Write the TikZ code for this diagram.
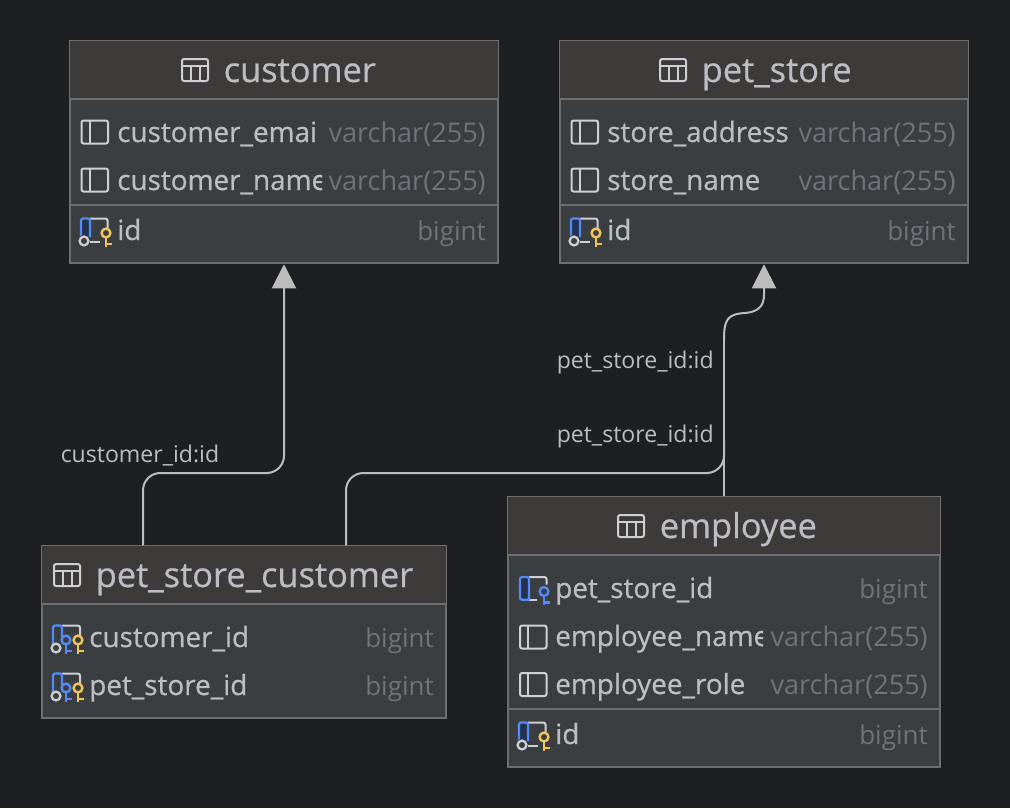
\documentclass[tikz,border=0pt]{standalone}
\usepackage{fontspec}
\setmainfont{Open Sans}
\newfontfamily\medfont[FakeBold=0.6]{Open Sans}
\usetikzlibrary{arrows.meta,calc}
\definecolor{bg}{HTML}{1E1F22}
\definecolor{headfill}{HTML}{3C3B3A}
\definecolor{bodyfill}{HTML}{3B3E41}
\definecolor{edge}{HTML}{6E6E6E}
\definecolor{txt}{HTML}{BCBEC4}
\definecolor{typ}{HTML}{6F737A}
\definecolor{conncol}{HTML}{BDBDBD}
\definecolor{keyblue}{HTML}{548AF7}
\definecolor{keydark}{HTML}{25324D}
\definecolor{keygold}{HTML}{F2C55C}
\definecolor{icongray}{HTML}{CED0D6}
\tikzset{
  x=0.75pt,y=-0.75pt,
  tablebox/.style={draw=edge,line width=1.5pt,fill=bodyfill,inner sep=0pt,anchor=north west},
  titletext/.style={text=txt,font=\medfont\fontsize{25.8}{28}\selectfont,anchor=base west,inner sep=0pt},
  fieldtext/.style={text=txt,font=\medfont\fontsize{20.9}{24}\selectfont,anchor=base west,inner sep=0pt},
  typetext/.style={text=typ,font=\fontsize{20.3}{24}\selectfont,anchor=base east,inner sep=0pt},
  shorttype/.style={text=typ,font=\fontsize{19.5}{24}\selectfont,anchor=base east,inner sep=0pt},
  linklabel/.style={text=txt,font=\fontsize{17.3}{22}\selectfont,anchor=base west,inner sep=0pt},
  conn/.style={draw=conncol,line width=1.5pt},
  iconline/.style={draw=icongray,line width=1.5pt},
  rule/.style={draw=edge,line width=1.5pt},
}
% header band and rules of a table: name, x, y, width, height, header height
\newcommand{\tablebody}[6]{%
  \node[tablebox,minimum width=#4*0.75pt,minimum height=#5*0.75pt] (#1) at (#2-0.75,#3-0.75) {};
  \fill[headfill] ($(#1.north west)+(1,1)$) rectangle ($(#1.north east)+(-1,#6)$);
  \draw[rule] ($(#1.north west)+(0,#6)$) -- ($(#1.north east)+(0,#6)$);
}
\newcommand{\icontable}[2]{%
  \begin{scope}[shift={(#1,#2)}]
    \draw[iconline,rounded corners=1.6pt] (0,-11) rectangle (26,11);
    \draw[iconline] (0,-4) -- (26,-4) (9,-4) -- (9,11) (18,-4) -- (18,11);
  \end{scope}}
\newcommand{\iconfield}[2]{%
  \begin{scope}[shift={(#1,#2)}]
    \draw[iconline,rounded corners=1.6pt] (0,-11.5) rectangle (26.5,11.5);
    \draw[iconline] (8,-11.5) -- (8,11.5);
  \end{scope}}
\newcommand{\keyshape}[3]{% x y colour
  \draw[draw=#3,line width=1.8pt] (#1,#2) circle (4.4);
  \draw[draw=#3,line width=1.9pt] (#1,#2+4.4) -- (#1,#2+13.5) (#1,#2+11) -- (#1+6,#2+11);
}
\newcommand{\iconframe}[2]{%
  \begin{scope}[shift={(#1,#2)}]
    \fill[keydark,rounded corners=1.6pt] (0,-12) rectangle (9,10);
    \draw[iconline,rounded corners=1.6pt] (26.5,-3) |- (9,-12.5);
    \draw[iconline] (9,10.5) -- (19,10.5);
    \draw[draw=keyblue,line width=1.7pt,rounded corners=1.6pt] (0,6) |- (9,-12.5) -- (9,6);
    \fill[bodyfill] (2.5,10) circle (6);
    \draw[draw=icongray,line width=1.7pt] (3,10) circle (4.4);
  \end{scope}}
% primary key icon
\newcommand{\iconpk}[2]{\iconframe{#1}{#2}%
  \begin{scope}[shift={(#1,#2)}]
    \keyshape{25}{2}{keygold}
  \end{scope}}
% composite key icon
\newcommand{\iconpkfk}[2]{%
  \begin{scope}[shift={(#1,#2)}]
    \draw[iconline,rounded corners=1.6pt] (27,-3) |- (9,-12.5);
    \draw[draw=keyblue,line width=1.7pt,rounded corners=1.6pt] (0,6) |- (9,-12.5) -- (9,-1);
    \draw[draw=icongray,line width=1.7pt] (3,10) circle (4.4);
    \keyshape{13}{2}{keyblue}
    \keyshape{25}{2}{keygold}
  \end{scope}}
% foreign key icon
\newcommand{\iconfk}[2]{%
  \begin{scope}[shift={(#1,#2)}]
    \fill[keydark,rounded corners=1.6pt] (0,-11.5) rectangle (9,11);
    \draw[iconline,rounded corners=1.6pt] (26.5,-4) |- (9,-11.5);
    \draw[iconline] (9,11.2) -- (17,11.2);
    \draw[draw=keyblue,line width=1.7pt,rounded corners=1.6pt] (9,11.2) -| (0,-11.5) -| (9,11.2);
    \keyshape{24}{3}{keyblue}
  \end{scope}}
% clipped field name: node name, x, baseline y, clip right, text
\newcommand{\clipfield}[5]{%
  \begin{scope}
    \clip (#2-2,#3-24) rectangle (#4,#3+10);
    \node[fieldtext] (#1) at (#2,#3) {#5};
  \end{scope}}
\begin{document}
\begin{tikzpicture}
\useasboundingbox (0,0) rectangle (1010,808);
\fill[bg] (0,0) rectangle (1010,808);

% ---- customer
\tablebody{customer}{70}{41}{428}{222}{59}
\draw[rule] (customer.west |- 0,204.5) -- (customer.east |- 0,204.5);
\icontable{182}{70}
\node[titletext] (customerT) at (223.5,82) {customer};
\iconfield{81.5}{132}
\iconfield{81.5}{180}
\iconpk{81}{231}
\clipfield{cf1}{117}{142}{318}{customer\_emai}
\clipfield{cf2}{117}{190}{322}{customer\_name}
\clipfield{cf3}{117}{240}{300}{id}
\node[typetext] (ct1) at (486,142) {varchar(255)};
\node[typetext] (ct2) at (486,190) {varchar(255)};
\node[shorttype] (ct3) at (486,240) {bigint};

% ---- pet_store
\tablebody{petstore}{560}{41}{408}{222}{59}
\draw[rule] (petstore.west |- 0,204.5) -- (petstore.east |- 0,204.5);
\icontable{660}{70}
\node[titletext] (petstoreT) at (701.5,82) {pet\_store};
\iconfield{571.5}{132}
\iconfield{571.5}{180}
\iconpk{571}{231}
\clipfield{sf1}{607}{142}{791}{store\_address}
\clipfield{sf2}{607}{190}{791}{store\_name}
\clipfield{sf3}{607}{240}{791}{id}
\node[typetext] (st1) at (956,142) {varchar(255)};
\node[typetext] (st2) at (956,190) {varchar(255)};
\node[shorttype] (st3) at (956,240) {bigint};

% ---- pet_store_customer
\tablebody{psc}{42}{546}{404}{172}{59}
\icontable{54}{575}
\node[titletext] (pscT) at (95.5,587) {pet\_store\_customer};
\iconpkfk{53}{638}
\iconpkfk{53}{686}
\clipfield{pf1}{89}{647}{249}{customer\_id}
\clipfield{pf2}{89}{695}{252}{pet\_store\_id}
\node[shorttype] (pt1) at (434,647) {bigint};
\node[shorttype] (pt2) at (434,695) {bigint};

% ---- employee
\tablebody{employee}{508}{497}{432}{270}{59}
\draw[rule] (employee.west |- 0,708.5) -- (employee.east |- 0,708.5);
\icontable{618}{526}
\node[titletext] (employeeT) at (659.5,538) {employee};
\iconfk{520}{588.5}
\iconfield{520}{637}
\iconfield{520}{684.5}
\iconpk{519}{735}
\clipfield{ef1}{555}{598}{763}{pet\_store\_id}
\clipfield{ef2}{555}{646}{763}{employee\_name}
\clipfield{ef3}{555}{694}{746}{employee\_role}
\clipfield{ef4}{555}{744}{743}{id}
\node[shorttype] (et1) at (928,598) {bigint};
\node[typetext] (et2) at (928,646) {varchar(255)};
\node[typetext] (et3) at (928,694) {varchar(255)};
\node[shorttype] (et4) at (928,744) {bigint};

% ---- connectors
\coordinate (a1) at (143,0 |- psc.north);
\coordinate (a2) at (284,0 |- customer.south);
\coordinate (b1) at (346,0 |- psc.north);
\coordinate (b2) at (764,0 |- petstore.south);
\coordinate (c1) at (724,0 |- employee.north);
\tikzset{tip/.style={-{Triangle[width=18pt,length=18pt,fill=conncol]}}}
\draw[conn,tip,rounded corners=13pt] (a1) |- (284,473) -- (a2);
\draw[conn,rounded corners=13pt] (b1) |- (724,473) -- (724,440);
\draw[conn] (c1) -- (724,340);
\draw[conn,tip] (724,340) .. controls (724,320) and (727,314) .. (745,313)
   .. controls (758,312) and (764,306) .. (764,295) -- (b2);

\node[linklabel] (l1) at (60.5,462) {customer\_id:id};
\node[linklabel] (l2) at (556.5,368) {pet\_store\_id:id};
\node[linklabel] (l3) at (556.5,442) {pet\_store\_id:id};
\end{tikzpicture}
\end{document}
